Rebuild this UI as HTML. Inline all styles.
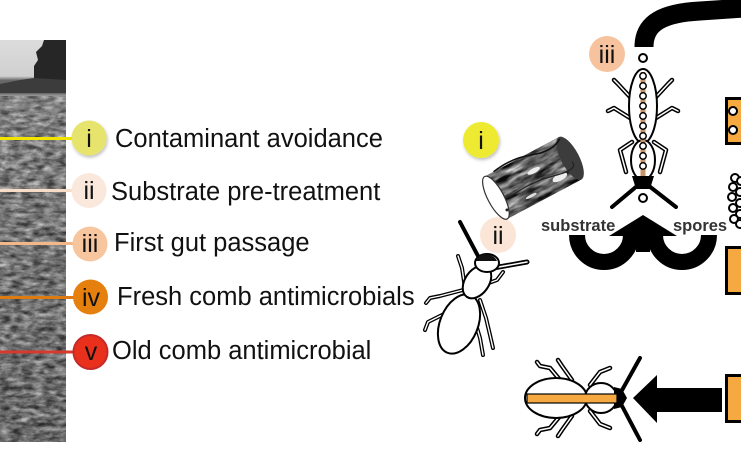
<!DOCTYPE html>
<html><head><meta charset="utf-8"><style>
html,body{margin:0;padding:0;background:#fff;}
svg{display:block;}
text{font-family:"Liberation Sans",Arial,sans-serif;}
</style></head><body>
<svg width="741" height="472" viewBox="0 0 741 472" xmlns="http://www.w3.org/2000/svg">
<defs>
<filter id="noise" x="0" y="0" width="100%" height="100%" color-interpolation-filters="sRGB">
<feTurbulence type="fractalNoise" baseFrequency="0.09 0.22" numOctaves="4" seed="5"/>
<feColorMatrix type="matrix" values="0.33 0.33 0.33 0 0  0.33 0.33 0.33 0 0  0.33 0.33 0.33 0 0  0 0 0 0 1"/>
<feComponentTransfer>
<feFuncR type="linear" slope="2.6" intercept="-0.85"/>
<feFuncG type="linear" slope="2.6" intercept="-0.85"/>
<feFuncB type="linear" slope="2.6" intercept="-0.85"/>
</feComponentTransfer>
</filter>
<filter id="wood" x="0" y="0" width="100%" height="100%" color-interpolation-filters="sRGB">
<feTurbulence type="fractalNoise" baseFrequency="0.05 0.2" numOctaves="3" seed="2"/>
<feColorMatrix type="matrix" values="0.33 0.33 0.33 0 0  0.33 0.33 0.33 0 0  0.33 0.33 0.33 0 0  0 0 0 0 1"/>
<feComponentTransfer>
<feFuncR type="linear" slope="2.4" intercept="-0.8"/>
<feFuncG type="linear" slope="2.4" intercept="-0.8"/>
<feFuncB type="linear" slope="2.4" intercept="-0.8"/>
</feComponentTransfer>
</filter>
<filter id="sh" x="-50%" y="-50%" width="200%" height="200%">
<feDropShadow dx="1" dy="2" stdDeviation="1.5" flood-color="#000" flood-opacity="0.25"/>
</filter>
<linearGradient id="photo" x1="0" y1="0" x2="0" y2="1">
<stop offset="0" stop-color="#dcdcdc"/>
<stop offset="0.09" stop-color="#d0d0d0"/>
<stop offset="0.10" stop-color="#6a6a6a"/>
<stop offset="0.13" stop-color="#555"/>
<stop offset="0.14" stop-color="#a2a2a2"/>
<stop offset="0.25" stop-color="#8e8e8e"/>
<stop offset="0.5" stop-color="#7a7a7a"/>
<stop offset="0.8" stop-color="#6e6e6e"/>
<stop offset="1" stop-color="#606060"/>
</linearGradient>
</defs>

<!-- photo -->
<rect x="0" y="40" width="66" height="402" fill="url(#photo)"/>
<rect x="0" y="96" width="66" height="346" filter="url(#noise)" opacity="0.55"/>
<path d="M34,92 L34,66 L38,60 L36,52 L42,46 L44,40 L66,40 L66,92 Z" fill="#262626"/>
<path d="M0,84 L20,80 L34,78 L66,80 L66,93 L0,93 Z" fill="#3c3c3c"/>

<!-- connector lines -->
<line x1="0" y1="138.5" x2="76" y2="138.5" stroke="#f0e400" stroke-width="3"/>
<line x1="0" y1="190.5" x2="76" y2="190.5" stroke="#f7dcc8" stroke-width="3"/>
<line x1="0" y1="243.5" x2="76" y2="243.5" stroke="#f3b889" stroke-width="3"/>
<line x1="0" y1="297.5" x2="76" y2="297.5" stroke="#de7a12" stroke-width="3"/>
<line x1="0" y1="352" x2="76" y2="352" stroke="#d63a2c" stroke-width="3"/>

<!-- legend circles -->
<circle cx="89" cy="138" r="17.5" fill="#e6e46c" filter="url(#sh)"/>
<circle cx="89" cy="190.5" r="17.5" fill="#fbe8dc"/>
<circle cx="90" cy="244" r="17.5" fill="#f7c59e"/>
<circle cx="90.5" cy="297" r="17.5" fill="#e5800f"/>
<circle cx="90.5" cy="352" r="17" fill="#e8301c" stroke="#c42a2a" stroke-width="2"/>
<g font-size="25" fill="#111" text-anchor="middle">
<text x="89" y="147">i</text>
<text x="89" y="199">ii</text>
<text x="90" y="252">iii</text>
<text x="91" y="306">iv</text>
<text x="91" y="360">v</text>
</g>
<g font-size="25.5" fill="#111">
<text x="115" y="147">Contaminant avoidance</text>
<text x="111" y="200">Substrate pre-treatment</text>
<text x="114" y="251">First gut passage</text>
<text x="117" y="305">Fresh comb antimicrobials</text>
<text x="112" y="359">Old comb antimicrobial</text>
</g>

<!-- top big arc -->
<path d="M644,47 C644,22 664,13 700,11 L745,8" fill="none" stroke="#000" stroke-width="19"/>

<!-- right circles -->
<circle cx="481" cy="140" r="18" fill="#eeea32" filter="url(#sh)"/>
<text x="481" y="149" font-size="25" text-anchor="middle" fill="#111">i</text>
<circle cx="498" cy="235" r="18" fill="#fbe5d6"/>
<text x="498" y="244" font-size="25" text-anchor="middle" fill="#111">ii</text>
<circle cx="607" cy="54" r="18" fill="#f6c39e"/>
<text x="607" y="63" font-size="25" text-anchor="middle" fill="#111">iii</text>

<!-- log -->
<g transform="translate(533,178) rotate(-28)">
<rect x="-42" y="-24" width="84" height="48" fill="#4a4a4a"/>
<rect x="-42" y="-24" width="84" height="48" filter="url(#wood)" opacity="0.85"/>
<ellipse cx="42" cy="0" rx="9" ry="24" fill="#3c3c3c"/>
<ellipse cx="4" cy="-6" rx="7" ry="2.5" fill="#eee"/>
<ellipse cx="24" cy="12" rx="8" ry="3.5" fill="#eee"/>
<ellipse cx="-10" cy="15" rx="6" ry="1.5" fill="#ddd"/>
<path d="M-32,-24 Q-10,-28 10,-21 T42,-22" fill="none" stroke="#111" stroke-width="1.5"/>
<path d="M-30,6 Q-5,2 20,8 T42,4" fill="none" stroke="#222" stroke-width="1.2"/>
<ellipse cx="-42" cy="0" rx="8" ry="24" fill="#fff" stroke="#333" stroke-width="1.2"/>
<circle cx="-38" cy="16" r="1.5" fill="#222"/>
</g>

<!-- ant ii -->
<g fill="none" stroke="#000" stroke-linecap="round" stroke-linejoin="round">
<line x1="478" y1="256" x2="460" y2="222" stroke-width="4"/>
<path d="M493,268 L527,262" stroke-width="5"/>
<path d="M493,268 L527,262" stroke="#fff" stroke-width="1.5"/>
<g stroke-width="4">
<path d="M463,290 L440,296 L430,298 L426,303"/>
<path d="M456,308 L440,316 L428,322 L425,330"/>
<path d="M465,288 L462,268 L458,256"/>
<path d="M486,284 L497,280 L503,272"/>
<path d="M480,300 L486,318 L490,335 L493,348"/>
<path d="M474,318 L480,338 L483,355"/>
</g>
<g stroke="#fff" stroke-width="1.4">
<path d="M463,290 L440,296 L430,298 L426,303"/>
<path d="M456,308 L440,316 L428,322 L425,330"/>
<path d="M465,288 L462,268 L458,256"/>
<path d="M486,284 L497,280 L503,272"/>
<path d="M480,300 L486,318 L490,335 L493,348"/>
<path d="M474,318 L480,338 L483,355"/>
</g>
</g>
<ellipse cx="459" cy="324" rx="19" ry="31" transform="rotate(22 459 324)" fill="#fff" stroke="#000" stroke-width="2"/>
<ellipse cx="477" cy="282" rx="12" ry="18" transform="rotate(35 477 282)" fill="#fff" stroke="#000" stroke-width="2"/>
<ellipse cx="487" cy="263" rx="12" ry="9" fill="#fff" stroke="#000" stroke-width="2"/>
<path d="M476,261 C478,252 493,252 497,261 Z" fill="#111"/>

<!-- vertical beetle iii -->
<g fill="none" stroke="#000" stroke-linecap="round" stroke-linejoin="round">
<line x1="637" y1="186" x2="612" y2="207" stroke-width="4"/>
<line x1="649" y1="186" x2="676" y2="207" stroke-width="4"/>
<g stroke-width="4.5">
<path d="M631,98 L618,84 L614,80"/>
<path d="M630,118 L614,108 L608,111"/>
<path d="M632,142 L620,150 L626,172"/>
<path d="M655,98 L668,84 L672,80"/>
<path d="M656,118 L672,108 L678,111"/>
<path d="M654,142 L666,150 L660,172"/>
</g>
<g stroke="#fff" stroke-width="1.5">
<path d="M631,98 L618,84 L614,80"/>
<path d="M630,118 L614,108 L608,111"/>
<path d="M632,142 L620,150 L626,172"/>
<path d="M655,98 L668,84 L672,80"/>
<path d="M656,118 L672,108 L678,111"/>
<path d="M654,142 L666,150 L660,172"/>
</g>
</g>
<ellipse cx="643" cy="106" rx="14" ry="37" fill="#fff" stroke="#000" stroke-width="2"/>
<ellipse cx="643" cy="160" rx="12" ry="20" fill="#fff" stroke="#000" stroke-width="2"/>
<polygon points="632,176 654,176 650,189 636,189" fill="#000"/>
<line x1="643" y1="72" x2="643" y2="176" stroke="#c8956a" stroke-width="5"/>
<g fill="#fff" stroke="#000" stroke-width="1.5">
<circle cx="643" cy="76" r="3.2"/><circle cx="643" cy="86" r="3.2"/><circle cx="643" cy="96" r="3.2"/>
<circle cx="643" cy="106" r="3.2"/><circle cx="643" cy="116" r="3.2"/><circle cx="643" cy="126" r="3.2"/>
<circle cx="643" cy="136" r="3.2"/><circle cx="643" cy="146" r="3.2"/><circle cx="643" cy="156" r="3.2"/>
<circle cx="643" cy="166" r="3.2"/>
<circle cx="643" cy="58" r="4" stroke-width="2"/>
<circle cx="643" cy="198" r="4" stroke-width="2"/>
</g>

<!-- substrate / spores -->
<g font-size="16.5" font-weight="bold" fill="#333">
<text x="541" y="231">substrate</text>
<text x="673" y="231">spores</text>
</g>
<path d="M577,235 A27,27 0 0 0 631,235" fill="none" stroke="#000" stroke-width="16"/>
<path d="M655,235 A27,27 0 0 0 709,235" fill="none" stroke="#000" stroke-width="16"/>
<rect x="636" y="230" width="14" height="22" fill="#000"/>
<polygon points="643,215 677,236 655,236 643,246 631,236 609,236" fill="#000"/>

<!-- bottom beetle -->
<g fill="none" stroke="#000" stroke-linecap="round" stroke-linejoin="round">
<line x1="621" y1="392" x2="640" y2="358" stroke-width="4"/>
<line x1="621" y1="404" x2="640" y2="440" stroke-width="4"/>
<g stroke-width="4.5">
<path d="M560,380 L550,368 L540,366 L537,362"/>
<path d="M572,380 L562,366 L558,360"/>
<path d="M590,385 L600,372 L610,368"/>
<path d="M560,416 L550,428 L540,430 L537,434"/>
<path d="M572,416 L562,430 L558,436"/>
<path d="M590,411 L600,424 L610,428"/>
</g>
<g stroke="#fff" stroke-width="1.5">
<path d="M560,380 L550,368 L540,366 L537,362"/>
<path d="M572,380 L562,366 L558,360"/>
<path d="M590,385 L600,372 L610,368"/>
<path d="M560,416 L550,428 L540,430 L537,434"/>
<path d="M572,416 L562,430 L558,436"/>
<path d="M590,411 L600,424 L610,428"/>
</g>
</g>
<ellipse cx="556" cy="398" rx="31" ry="20" fill="#fff" stroke="#000" stroke-width="2"/>
<ellipse cx="601" cy="398" rx="16" ry="15" fill="#fff" stroke="#000" stroke-width="2"/>
<polygon points="614,387 622,389 627,398 622,407 614,409" fill="#000"/>
<rect x="527" y="394" width="90" height="9" fill="#f5a940" stroke="#000" stroke-width="1.2"/>

<!-- left arrow -->
<polygon points="633,398 657,375 657,388 722,388 722,412 657,412 657,423" fill="#000"/>

<!-- right boxes -->
<g fill="#f5a940" stroke="#000" stroke-width="3">
<rect x="726.5" y="98.5" width="20" height="45"/>
<rect x="726.5" y="247.5" width="20" height="46"/>
<rect x="726.5" y="375.5" width="20" height="46"/>
</g>
<g fill="#fff" stroke="#000" stroke-width="2">
<circle cx="733" cy="111" r="4"/>
<circle cx="733" cy="130" r="4"/>
<circle cx="735" cy="178" r="4"/><circle cx="741" cy="181" r="4"/>
<circle cx="733" cy="187" r="4"/><circle cx="740" cy="192" r="4"/>
<circle cx="732" cy="197" r="4"/><circle cx="740" cy="203" r="4"/>
<circle cx="733" cy="208" r="4"/><circle cx="740" cy="214" r="4"/>
<circle cx="734" cy="219" r="4"/><circle cx="740" cy="224" r="4"/>
</g>
</svg>
</body></html>
